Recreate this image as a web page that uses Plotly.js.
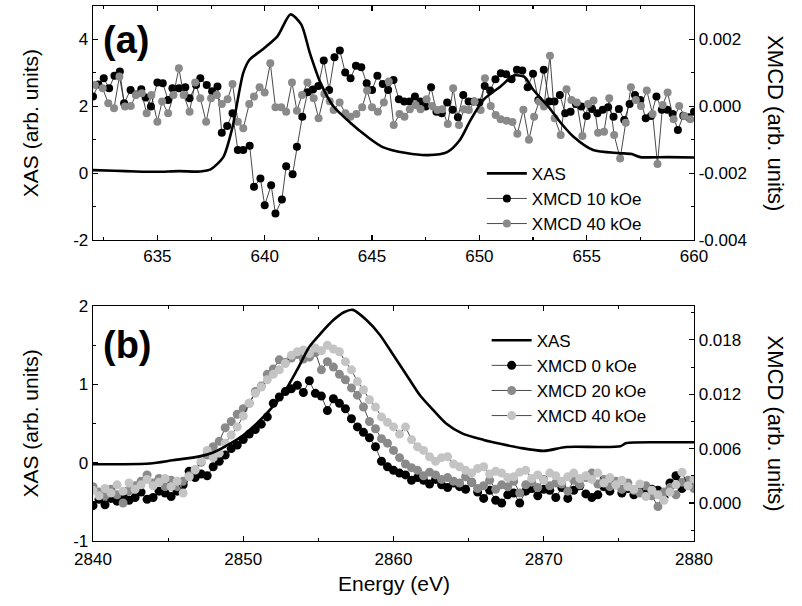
<!DOCTYPE html>
<html>
<head>
<meta charset="utf-8">
<script src="https://cdn.plot.ly/plotly-3.0.1.min.js"></script>
<style>html,body{margin:0;padding:0;background:#fff;}#chart{width:802px;height:606px;}</style>
</head>
<body>
<div id="chart"></div>
<script>
// ---------- Panel (a) : XAS (left axis) ----------
const xasA_E = [632,633,634,635,636,637,637.5,638.07,638.5,639.0,639.3,639.9,640.6,641.2,641.7,642.1,642.6,643.2,644.0,644.8,645.5,646.6,647.6,648.5,649.1,649.6,650.2,651.0,651.6,652.1,652.5,653.2,653.8,654.4,655.3,656.5,657.1,657.5,658.8,660];
const xasA = [0.09,0.07,0.05,0.04,0.06,0.05,0.12,0.48,1.38,3.0,3.4,3.7,4.1,4.75,4.45,3.6,2.7,2.0,1.5,1.08,0.78,0.6,0.54,0.63,1.0,1.6,2.2,2.6,2.92,2.88,2.5,2.0,1.5,1.08,0.69,0.6,0.57,0.48,0.48,0.47];

// ---------- Panel (a) : XMCD 10 kOe (right axis) ----------
const xmcd10_E = [632.0,632.25,632.5,632.75,633.0,633.25,633.45,633.75,634.0,634.25,634.45,634.7,635.0,635.25,635.5,635.7,636.0,636.3,636.5,636.8,637.0,637.3,637.55,637.8,638.0,638.25,638.5,638.75,639.0,639.3,639.5,639.8,640.0,640.3,640.5,640.8,641.0,641.3,641.5,641.75,642.0,642.25,642.5,642.75,643.0,643.25,643.5,643.75,644.0,644.25,644.5,644.75,645.0,645.25,645.5,645.75,646.0,646.25,646.5,646.75,647.0,647.25,647.5,647.75,648.0,648.25,648.5,648.75,649.0,649.25,649.5,649.75,650.0,650.25,650.5,650.75,651.0,651.25,651.5,651.75,652.0,652.25,652.5,652.75,653.0,653.25,653.5,653.75,654.0,654.25,654.5,654.75,655.0,655.25,655.5,655.75,656.0,656.25,656.5,656.75,657.0,657.25,657.5,657.75,658.0,658.25,658.5,658.75,659.0,659.25,659.5,659.75,660.0];
const xmcd10 = [0.00029,0.00065,0.00084,0.00054,0.00091,0.00104,0.00009,0.00049,0.00035,0.00051,0.00026,-0.00001,0.00071,0.00069,0.00019,0.00054,0.00054,0.00057,0.00024,0.00064,0.00084,0.00064,0.00045,0.00059,-0.00079,-0.00059,-0.00021,-0.00131,-0.00131,-0.00118,-0.00241,-0.00216,-0.00296,-0.00236,-0.00321,-0.00279,-0.00179,-0.00203,-0.00121,-0.00031,0.00042,0.00050,0.00061,0.00137,0.00049,0.00147,0.00167,0.00101,0.00084,0.00121,0.00117,0.00069,0.00049,0.00091,0.00067,0.00049,0.00079,0.00021,0.00014,0.00014,0.00029,0.00014,-0.00001,0.00057,-0.00016,-0.00021,0.00011,-0.00010,-0.00033,0.00034,0.00014,0.00014,0.00011,0.00061,0.00047,0.00081,0.00099,0.00096,0.00081,0.00109,0.00107,0.00057,0.00097,0.00019,0.00109,0.00014,0.00014,0.00034,-0.00021,-0.00016,0.00007,-0.00001,-0.00029,-0.00008,-0.00021,-0.00010,-0.00003,-0.00031,-0.00008,-0.00041,0.00007,0.00034,0.00019,-0.00036,-0.00029,0.00029,-0.00010,-0.00010,-0.00023,-0.00071,-0.00028,-0.00033,-0.00016];

// ---------- Panel (a) : XMCD 40 kOe (right axis) ----------
const xmcd40a_E = [632.09,632.45,632.71,632.98,633.23,633.49,633.76,634.0,634.27,634.5,634.72,635.0,635.22,635.5,635.75,636.0,636.22,636.5,636.76,637.0,637.27,637.5,637.77,638.0,638.27,638.5,638.75,639.0,639.28,639.5,639.76,640.0,640.26,640.5,640.77,641.0,641.27,641.5,641.74,641.99,642.28,642.51,642.78,643.03,643.21,643.49,643.76,643.99,644.27,644.54,644.77,645.0,645.27,645.55,645.78,646.01,646.28,646.51,646.76,647.03,647.26,647.54,647.8,648.04,648.27,648.53,648.78,649.05,649.28,649.51,649.78,650.06,650.26,650.53,650.76,650.99,651.27,651.54,651.77,652.05,652.31,652.55,652.78,653.01,653.29,653.51,653.79,654.06,654.29,654.54,654.8,655.07,655.32,655.53,655.81,656.05,656.28,656.56,656.82,657.06,657.29,657.53,657.8,658.07,658.3,658.54,658.77,659.05,659.31,659.55,659.83];
const xmcd40a = [0.00064,0.00054,0.00009,-0.00006,0.00089,-0.00001,0.00001,0.00034,0.00039,-0.00021,0.00034,-0.00046,0.00014,-0.00021,0.00034,0.00114,0.00034,-0.00016,0.00071,0.00024,-0.00046,0.00024,0.00034,0.00007,0.00021,0.00067,-0.00046,-0.00066,0.00007,0.00029,0.00057,0.00041,0.00129,-0.00003,-0.00003,-0.00016,0.00071,-0.00013,0.00034,0.00071,0.00024,-0.00036,0.00037,0.00015,-0.00011,0.00011,-0.00021,-0.00031,-0.00023,-0.00003,0.00047,-0.00003,-0.00016,0.00011,0.00074,-0.00056,-0.00023,-0.00031,-0.00009,0.00004,-0.00009,0.00021,0.00001,-0.00011,-0.00009,-0.00053,0.00054,-0.00056,-0.00009,-0.00011,0.00014,-0.00011,0.00084,0.00001,-0.00026,-0.00039,-0.00043,-0.00047,-0.00082,-0.00010,-0.00100,-0.00031,0.00014,-0.00001,0.00151,-0.00036,-0.00086,0.00051,0.00019,0.00011,-0.00089,0.00007,0.00017,-0.00079,-0.00076,0.00024,-0.00086,-0.00156,-0.00049,0.00057,0.00019,0.00001,0.00047,-0.00023,-0.00173,0.00004,0.00041,-0.00039,0.00001,-0.00029,-0.00039];

// ---------- Panel (b) : XAS (left axis) ----------
const xasB_E = [2840,2842,2843.8,2845.3,2847.1,2848.0,2849.1,2850.0,2850.9,2851.8,2852.7,2853.6,2854.4,2855.2,2856.0,2856.7,2857.3,2858.2,2859.1,2860.0,2860.9,2861.8,2862.6,2863.5,2864.6,2866.0,2867.1,2868.4,2870.0,2871.5,2873.7,2875.1,2875.5,2878.2,2880];
const xasB = [-0.02,-0.02,-0.01,0.03,0.08,0.13,0.24,0.35,0.50,0.68,0.89,1.19,1.48,1.66,1.82,1.92,1.95,1.82,1.63,1.37,1.11,0.85,0.68,0.50,0.37,0.29,0.24,0.19,0.15,0.20,0.20,0.21,0.25,0.26,0.26];

// ---------- Panel (b) : XMCD (right axis) ----------
const energyB = [2840.0,2840.4,2840.8,2841.2,2841.6,2842.0,2842.4,2842.8,2843.2,2843.6,2844.0,2844.4,2844.8,2845.2,2845.6,2846.0,2846.4,2846.8,2847.2,2847.6,2848.0,2848.4,2848.8,2849.2,2849.6,2850.0,2850.4,2850.8,2851.2,2851.6,2852.0,2852.4,2852.8,2853.2,2853.6,2854.0,2854.4,2854.8,2855.2,2855.6,2856.0,2856.4,2856.8,2857.2,2857.6,2858.0,2858.4,2858.8,2859.2,2859.6,2860.0,2860.4,2860.8,2861.2,2861.6,2862.0,2862.4,2862.8,2863.2,2863.6,2864.0,2864.4,2864.8,2865.2,2865.6,2866.0,2866.4,2866.8,2867.2,2867.6,2868.0,2868.4,2868.8,2869.2,2869.6,2870.0,2870.4,2870.8,2871.2,2871.6,2872.0,2872.4,2872.8,2873.2,2873.6,2874.0,2874.4,2874.8,2875.2,2875.6,2876.0,2876.4,2876.8,2877.2,2877.6,2878.0,2878.4,2878.8,2879.2,2879.6,2880.0];
const xmcd0b = [-0.0003,0.0004,-0.0002,0.0005,0.0002,0.0008,0.0003,0.0006,0.0012,0.0004,0.0006,0.0013,0.0011,0.0007,0.0013,0.0020,0.0035,0.0028,0.0032,0.0030,0.0040,0.0046,0.0053,0.0060,0.0064,0.0070,0.0076,0.0081,0.0087,0.0095,0.0110,0.0117,0.0123,0.0126,0.0130,0.0122,0.0135,0.0121,0.0118,0.0102,0.0115,0.0110,0.0104,0.0093,0.0084,0.0078,0.0072,0.0062,0.0046,0.0040,0.0036,0.0033,0.0031,0.0025,0.0028,0.0025,0.0021,0.0026,0.0020,0.0017,0.0022,0.0018,0.0015,0.0023,0.0012,0.0005,0.0014,0.0003,0.0000,0.0009,0.0011,0.0000,0.0013,0.0016,0.0008,0.0015,0.0014,0.0006,0.0017,0.0005,0.0014,0.0019,0.0010,0.0006,0.0009,0.0018,0.0013,0.0020,0.0011,0.0016,0.0009,0.0018,0.0010,0.0015,0.0014,0.0006,0.0022,0.0030,0.0016,0.0023,0.0019];
const xmcd20b = [0.0018,0.0012,0.0008,0.0015,0.0009,0.0000,0.0013,0.0019,0.0024,0.0031,0.0022,0.0027,0.0018,0.0025,0.0018,0.0024,0.0030,0.0036,0.0045,0.0053,0.0062,0.0068,0.0083,0.0090,0.0098,0.0104,0.0110,0.0123,0.0129,0.0142,0.0148,0.0158,0.0155,0.0160,0.0164,0.0159,0.0161,0.0166,0.0147,0.0156,0.0150,0.0142,0.0136,0.0127,0.0119,0.0106,0.0090,0.0082,0.0071,0.0066,0.0058,0.0050,0.0043,0.0039,0.0036,0.0030,0.0034,0.0031,0.0026,0.0028,0.0024,0.0022,0.0029,0.0023,0.0016,0.0019,0.0025,0.0015,0.0020,0.0018,0.0024,0.0011,0.0020,0.0023,0.0017,0.0026,0.0019,0.0022,0.0021,0.0013,0.0025,0.0020,0.0028,0.0033,0.0021,0.0026,0.0018,0.0024,0.0015,0.0022,0.0014,0.0011,0.0019,0.0008,-0.0004,0.0012,0.0017,0.0009,0.0023,0.0025,0.0016];
const xmcd40b = [0.0014,0.0008,0.0016,0.0011,0.0020,0.0013,0.0022,0.0015,0.0020,0.0026,0.0019,0.0023,0.0027,0.0018,0.0024,0.0011,0.0029,0.0037,0.0046,0.0058,0.0050,0.0055,0.0066,0.0075,0.0084,0.0096,0.0110,0.0121,0.0128,0.0136,0.0142,0.0147,0.0154,0.0163,0.0167,0.0169,0.0165,0.0171,0.0168,0.0174,0.0170,0.0167,0.0156,0.0147,0.0134,0.0125,0.0114,0.0106,0.0095,0.0089,0.0084,0.0076,0.0084,0.0070,0.0062,0.0058,0.0051,0.0046,0.0050,0.0051,0.0043,0.0040,0.0036,0.0033,0.0038,0.0040,0.0032,0.0035,0.0033,0.0028,0.0029,0.0034,0.0036,0.0027,0.0031,0.0025,0.0033,0.0030,0.0024,0.0029,0.0033,0.0027,0.0030,0.0026,0.0033,0.0022,0.0028,0.0020,0.0025,0.0018,0.0015,0.0021,0.0007,0.0014,0.0009,0.0003,0.0012,0.0020,0.0034,0.0019,0.0026];

// ---------- tick labels ----------
const tickA_x = [635,640,645,650,655,660];
const tickA_yL = [-2,0,2,4];
const tickA_yLtext = ['-2','0','2','4'];
const tickA_yR = [-0.004,-0.002,0,0.002];
const tickA_yRtext = ['-0.004','-0.002','0.000','0.002'];
const tickB_x = [2840,2850,2860,2870,2880];
const tickB_yL = [-1,0,1,2];
const tickB_yLtext = ['-1','0','1','2'];
const tickB_yR = [0,0.006,0.012,0.018];
const tickB_yRtext = ['0.000','0.006','0.012','0.018'];

const FONT = 'Liberation Sans, Arial, Helvetica, sans-serif';
const lineCol = '#1a1a1a';

function xmcdTrace(x, y, name, color, xa, ya, leg, rank, size) {
  return {x: x, y: y, name: name, type: 'scatter', mode: 'lines+markers',
    xaxis: xa, yaxis: ya, legend: leg, legendrank: rank,
    line: {color: lineCol, width: 0.8},
    marker: {color: color, size: size, line: {width: 0}}};
}

const traces = [
  xmcdTrace(xmcd10_E, xmcd10, 'XMCD 10 kOe', '#000000', 'x', 'y', 'legend', 2, 8),
  xmcdTrace(xmcd40a_E, xmcd40a, 'XMCD 40 kOe', '#8a8a8a', 'x', 'y', 'legend', 3, 8),
  {x: xasA_E, y: xasA, name: 'XAS', type: 'scatter', mode: 'lines', xaxis: 'x', yaxis: 'y2',
   legend: 'legend', legendrank: 1, line: {color: '#000', width: 2.6, shape: 'spline', smoothing: 0.7}},
  xmcdTrace(energyB, xmcd0b, 'XMCD 0 kOe', '#000000', 'x2', 'y3', 'legend2', 2, 9),
  xmcdTrace(energyB, xmcd20b, 'XMCD 20 kOe', '#8a8a8a', 'x2', 'y3', 'legend2', 3, 9),
  xmcdTrace(energyB, xmcd40b, 'XMCD 40 kOe', '#c4c4c4', 'x2', 'y3', 'legend2', 4, 9),
  {x: xasB_E, y: xasB, name: 'XAS', type: 'scatter', mode: 'lines', xaxis: 'x2', yaxis: 'y4',
   legend: 'legend2', legendrank: 1, line: {color: '#000', width: 2.6, shape: 'spline', smoothing: 0.7}}
];

const axCommon = {showline: true, linecolor: '#000', linewidth: 1.3, ticks: 'inside', ticklen: 5,
  tickwidth: 1.1, tickcolor: '#000', showgrid: false, zeroline: false,
  tickfont: {family: FONT, size: 17, color: '#000'}, fixedrange: true};

function minor(t0, dt) { return {tickmode: 'linear', tick0: t0, dtick: dt, ticks: 'inside', ticklen: 3, tickwidth: 1.1, tickcolor: '#000', showgrid: false}; }

const domA = [0.5626, 1];
const domB = [0, 0.4393];

const layout = {
  width: 802, height: 606,
  margin: {l: 93, r: 108, t: 6, b: 65, pad: 0},
  paper_bgcolor: '#fff', plot_bgcolor: 'rgba(0,0,0,0)',
  font: {family: FONT, size: 17, color: '#000'},
  showlegend: true,
  xaxis: Object.assign({}, axCommon, {domain: [0, 1], anchor: 'y', range: [632, 660], tickmode: 'array',
    tickvals: tickA_x, mirror: 'ticks', minor: minor(632.5, 2.5)}),
  yaxis: Object.assign({}, axCommon, {domain: domA, anchor: 'x', side: 'right', range: [-0.004, 0.003],
    tickmode: 'array', tickvals: tickA_yR, ticktext: tickA_yRtext, minor: minor(0, 0.001)}),
  yaxis2: Object.assign({}, axCommon, {overlaying: 'y', anchor: 'x', side: 'left', range: [-2, 5],
    tickmode: 'array', tickvals: tickA_yL, ticktext: tickA_yLtext, minor: minor(0, 1)}),
  xaxis2: Object.assign({}, axCommon, {domain: [0, 1], anchor: 'y3', range: [2840, 2880], tickmode: 'array',
    tickvals: tickB_x, mirror: 'ticks', minor: minor(2845, 5), ticklabelstandoff: 2}),
  yaxis3: Object.assign({}, axCommon, {domain: domB, anchor: 'x2', side: 'right', range: [-0.0042, 0.02175],
    tickmode: 'array', tickvals: tickB_yR, ticktext: tickB_yRtext, minor: minor(0, 0.003)}),
  yaxis4: Object.assign({}, axCommon, {overlaying: 'y3', anchor: 'x2', side: 'left', range: [-1, 2],
    tickmode: 'array', tickvals: tickB_yL, ticktext: tickB_yLtext, minor: minor(0, 0.5)}),
  legend: {x: 0.647, y: 0.72, xanchor: 'left', yanchor: 'top', bgcolor: 'rgba(0,0,0,0)', borderwidth: 0,
    font: {family: FONT, size: 17, color: '#000'}, itemwidth: 40, tracegroupgap: 0, traceorder: 'normal'},
  legend2: {x: 0.655, y: 0.408, xanchor: 'left', yanchor: 'top', bgcolor: 'rgba(0,0,0,0)', borderwidth: 0,
    font: {family: FONT, size: 17, color: '#000'}, itemwidth: 40, tracegroupgap: 0, traceorder: 'normal'},
  annotations: [
    {text: '<b>(a)</b>', xref: 'paper', yref: 'paper', x: 0.014, y: 0.9365, xanchor: 'left', yanchor: 'middle',
     showarrow: false, font: {family: FONT, size: 38, color: '#000'}},
    {text: '<b>(b)</b>', xref: 'paper', yref: 'paper', x: 0.014, y: 0.366, xanchor: 'left', yanchor: 'middle',
     showarrow: false, font: {family: FONT, size: 38, color: '#000'}},
    {text: 'XAS (arb. units)', xref: 'paper', yref: 'paper', x: -0.1048, y: 0.781, xanchor: 'center', yanchor: 'middle',
     textangle: -90, showarrow: false, font: {family: FONT, size: 21, color: '#000'}},
    {text: 'XAS (arb. units)', xref: 'paper', yref: 'paper', x: -0.1048, y: 0.2196, xanchor: 'center', yanchor: 'middle',
     textangle: -90, showarrow: false, font: {family: FONT, size: 21, color: '#000'}},
    {text: 'XMCD (arb. units)', xref: 'paper', yref: 'paper', x: 1.1364, y: 0.781, xanchor: 'center', yanchor: 'middle',
     textangle: 90, showarrow: false, font: {family: FONT, size: 22, color: '#000'}},
    {text: 'XMCD (arb. units)', xref: 'paper', yref: 'paper', x: 1.1364, y: 0.2196, xanchor: 'center', yanchor: 'middle',
     textangle: 90, showarrow: false, font: {family: FONT, size: 22, color: '#000'}},
    {text: 'Energy (eV)', xref: 'paper', yref: 'paper', x: 0.5, y: -0.08, xanchor: 'center', yanchor: 'middle',
     showarrow: false, font: {family: FONT, size: 21, color: '#000'}}
  ]
};

Plotly.newPlot('chart', traces, layout, {displayModeBar: false, staticPlot: true});
</script>
</body>
</html>
